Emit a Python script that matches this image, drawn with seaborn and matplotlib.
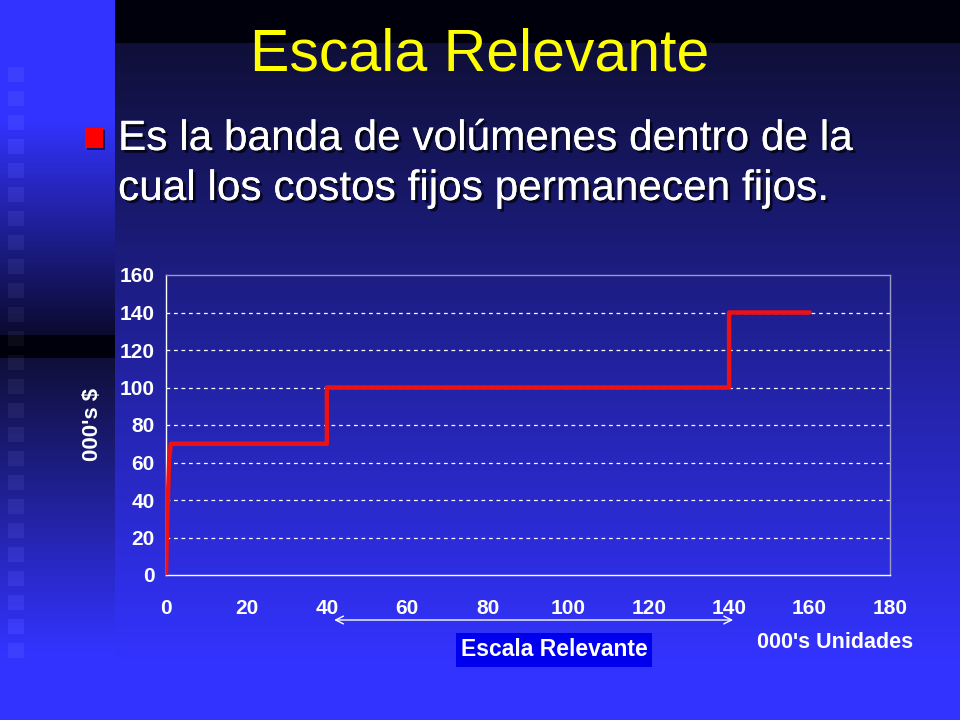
"""Escala Relevante: step chart of fixed costs over a relevant volume range."""

import numpy as np
import pandas as pd
import matplotlib
matplotlib.use("Agg")
import matplotlib.pyplot as plt
import matplotlib.patheffects as pe
import seaborn as sns

# --- data ---
unidades = [0, 0.3, 0.8, 1.2, 40, 40, 140, 140, 160]
costos = [0, 30, 62, 70, 70, 100, 100, 140, 140]
x_ticks = [0, 20, 40, 60, 80, 100, 120, 140, 160, 180]
y_ticks = [0, 20, 40, 60, 80, 100, 120, 140, 160]
rango_relevante = (40, 140)

df = pd.DataFrame({"unidades": unidades, "costos": costos})

sns.set_theme(style="white")
plt.rcParams["font.family"] = ["Liberation Sans", "DejaVu Sans"]

W, H = 960, 720
fig = plt.figure(figsize=(9.6, 7.2), dpi=100)

# --- slide background ---
def lerp(c0, c1, t):
    c0, c1 = np.array(c0), np.array(c1)
    return c0 + (c1 - c0) * np.clip(t, 0, 1)[:, None]

bright = (0.20, 0.20, 1.0)
dark = (0.06, 0.06, 0.22)
black = (0.0, 0.0, 0.05)
rows = np.arange(H)

main = lerp(dark, bright, (rows - 43) / (660 - 43))
main[rows < 43] = black

strip = np.zeros((H, 3))
top = rows < 335
strip[top] = lerp(bright, (0.04, 0.04, 0.18), ((rows[top] - 120) / 215))
band = (rows >= 335) & (rows < 358)
strip[band] = black
low = rows >= 358
strip[low] = lerp(dark, bright, (rows[low] - 358) / (650 - 358))

bg = np.repeat(main[:, None, :], W, axis=1)
bg[:, :115, :] = strip[:, None, :]
sq = np.clip(strip + 0.045, 0, 1)
for y0 in range(67, 650, 24):
    bg[y0:y0 + 15, 8:24, :] = sq[y0:y0 + 15][:, None, :]

ax_bg = fig.add_axes([0, 0, 1, 1])
ax_bg.imshow(bg, aspect="auto", interpolation="bilinear")
ax_bg.axis("off")

# --- title and bullet ---
fig.text(480 / W, 1 - 55 / H, "Escala Relevante", color="#ffff00",
         fontsize=42.5, ha="center", va="center")
shadow = [pe.withSimplePatchShadow(offset=(2, -2), shadow_rgbFace="black", alpha=0.7),
          pe.Normal()]
fig.text(118 / W, 1 - 150 / H, "Es la banda de volúmenes dentro de la",
         color="white", fontsize=30.5, ha="left", va="baseline", path_effects=shadow)
fig.text(118 / W, 1 - 200 / H, "cual los costos fijos permanecen fijos.",
         color="white", fontsize=30.5, ha="left", va="baseline", path_effects=shadow)
fig.patches.append(plt.Rectangle((87 / W, 1 - 150 / H), 18 / W, 20 / H,
                                 transform=fig.transFigure, facecolor="#0a0010",
                                 edgecolor="none", alpha=0.6, zorder=2))
fig.patches.append(plt.Rectangle((85 / W, 1 - 148 / H), 18 / W, 20 / H,
                                 transform=fig.transFigure, facecolor="#ff0000",
                                 edgecolor="none", zorder=3))

# --- chart ---
ax = fig.add_axes([166 / W, 1 - 575 / H, (890 - 166) / W, (575 - 275) / H])
ax.set_facecolor("none")
sns.lineplot(data=df, x="unidades", y="costos", ax=ax, color="#ee1111",
             linewidth=3.2, sort=False, estimator=None, zorder=3)

ax.set_xlim(0, 180)
ax.set_ylim(0, 160)
ax.set_xticks(x_ticks)
ax.set_yticks(y_ticks)
ax.set_xticklabels([str(t) for t in x_ticks])
ax.set_yticklabels([str(t) for t in y_ticks])
for t in y_ticks[1:-1]:
    ax.axhline(t, color="white", linestyle=(0, (3, 3)), linewidth=0.9, zorder=1)

ax.tick_params(axis="both", colors="white", labelcolor="white", labelsize=15,
               direction="out", length=5, width=1)
ax.tick_params(axis="x", pad=12)
ax.tick_params(axis="y", pad=3)
for lab in ax.get_xticklabels() + ax.get_yticklabels():
    lab.set_fontweight("bold")
ax.spines["left"].set_color("white")
ax.spines["bottom"].set_color("white")
ax.spines["top"].set_color("#9a9ac8")
ax.spines["right"].set_color("#9a9ac8")
for s in ax.spines.values():
    s.set_linewidth(1)
ax.set_xlabel("")
ax.set_ylabel("")

fig.text(93 / W, 1 - 424 / H, "000's $", color="white", fontsize=16,
         fontweight="bold", rotation=90, ha="center", va="center")
fig.text(835 / W, 1 - 643 / H, "000's Unidades", color="white", fontsize=15.5,
         fontweight="bold", ha="center", va="center")

# relevant range arrow and label
ax.annotate("", xy=(rango_relevante[0] + 1.8, -0.15),
            xytext=(rango_relevante[1] + 1, -0.15),
            xycoords=ax.get_xaxis_transform(), textcoords=ax.get_xaxis_transform(),
            arrowprops=dict(arrowstyle="<->", color="white", lw=1,
                            shrinkA=0, shrinkB=0, mutation_scale=14),
            annotation_clip=False)

fig.text(554 / W, 1 - 650 / H, "Escala Relevante", color="white", fontsize=16.5,
         fontweight="bold", ha="center", va="center",
         bbox=dict(boxstyle="square,pad=0.22", facecolor="#0000ee", edgecolor="none"))

plt.savefig("out.png", dpi=100)
plt.close()
